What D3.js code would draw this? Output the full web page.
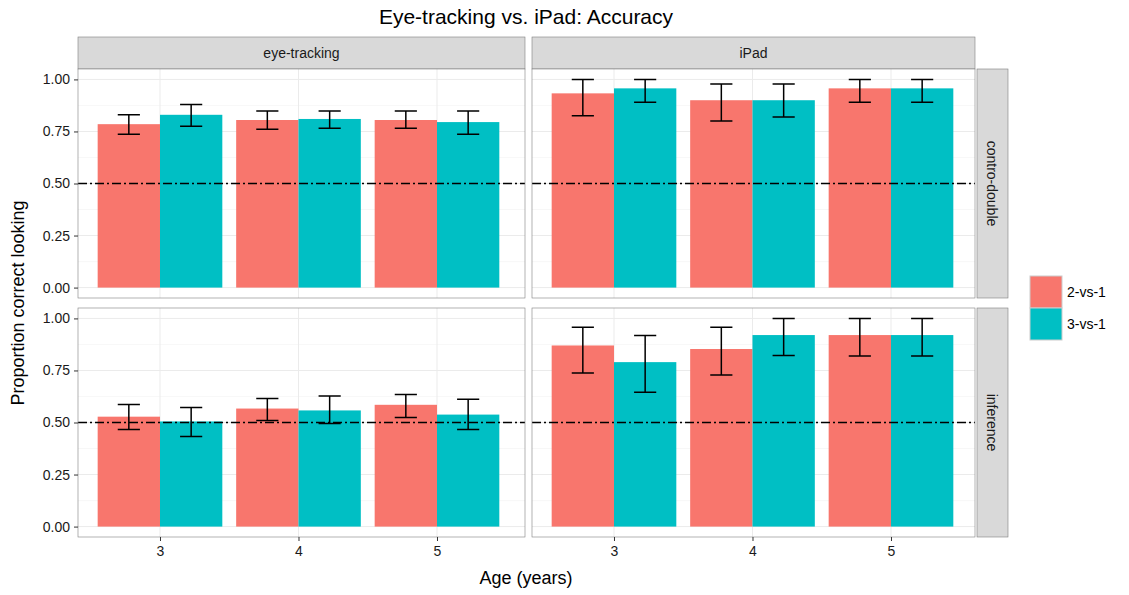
<!DOCTYPE html><html><head><script src="https://cdn.jsdelivr.net/npm/d3@7"></script>
<style>body{margin:0;background:#fff}text{font-family:"Liberation Sans",Arial,sans-serif}</style></head><body><svg id="c" width="1129" height="595"></svg>
<script>
const ages=[3,4,5];
const methods=["eye-tracking","iPad"];
const conditions=["contro-double","inference"];
const groups=["2-vs-1","3-vs-1"];
const yTicks=[0,0.25,0.5,0.75,1];
const means={"eye-tracking":{"contro-double":{"2-vs-1":[0.785,0.805,0.805],"3-vs-1":[0.83,0.81,0.795]},
 "inference":{"2-vs-1":[0.528,0.567,0.585],"3-vs-1":[0.505,0.558,0.538]}},
 "iPad":{"contro-double":{"2-vs-1":[0.933,0.9,0.957],"3-vs-1":[0.957,0.9,0.957]},
 "inference":{"2-vs-1":[0.87,0.853,0.92],"3-vs-1":[0.79,0.92,0.92]}}};
const lows={"eye-tracking":{"contro-double":{"2-vs-1":[0.737,0.76,0.765],"3-vs-1":[0.775,0.765,0.737]},
 "inference":{"2-vs-1":[0.466,0.51,0.524],"3-vs-1":[0.433,0.495,0.466]}},
 "iPad":{"contro-double":{"2-vs-1":[0.825,0.8,0.89],"3-vs-1":[0.89,0.82,0.89]},
 "inference":{"2-vs-1":[0.738,0.728,0.82],"3-vs-1":[0.645,0.822,0.82]}}};
const highs={"eye-tracking":{"contro-double":{"2-vs-1":[0.83,0.848,0.848],"3-vs-1":[0.88,0.848,0.848]},
 "inference":{"2-vs-1":[0.587,0.615,0.635],"3-vs-1":[0.572,0.627,0.612]}},
 "iPad":{"contro-double":{"2-vs-1":[1.0,0.978,1.0],"3-vs-1":[1.0,0.978,1.0]},
 "inference":{"2-vs-1":[0.957,0.957,1.0],"3-vs-1":[0.918,1.0,1.0]}}};
const colors={"2-vs-1":"#F8766D","3-vs-1":"#00BFC4"};
const svg=d3.select("#c");
const px=[[78,525],[532,975]], py=[[69,298],[308,537]];
svg.append("text").attr("x",526).attr("y",24).attr("text-anchor","middle").attr("font-size",21).text("Eye-tracking vs. iPad: Accuracy");
methods.forEach((m,mi)=>{
 const x=d3.scaleLinear().domain([2.408,2.408+(px[mi][1]-px[mi][0])/138.5]).range(px[mi]);
 svg.append("rect").attr("x",px[mi][0]).attr("y",37).attr("width",px[mi][1]-px[mi][0]).attr("height",32).attr("fill","#d9d9d9").attr("stroke","#7f7f7f").attr("stroke-width",0.6);
 svg.append("text").attr("x",(px[mi][0]+px[mi][1])/2).attr("y",58).attr("text-anchor","middle").attr("font-size",14).attr("fill","#1a1a1a").text(m);
 conditions.forEach((c,ci)=>{
  const y=d3.scaleLinear().domain([-0.05,1.05]).range([py[ci][1],py[ci][0]]);
  const g=svg.append("g");
  g.append("rect").attr("x",px[mi][0]).attr("y",py[ci][0]).attr("width",px[mi][1]-px[mi][0]).attr("height",py[ci][1]-py[ci][0]).attr("fill","#fff");
  [0.125,0.375,0.625,0.875].forEach(t=>g.append("line").attr("x1",px[mi][0]).attr("x2",px[mi][1]).attr("y1",y(t)).attr("y2",y(t)).attr("stroke","#f2f2f2").attr("stroke-width",0.6));
  yTicks.forEach(t=>g.append("line").attr("x1",px[mi][0]).attr("x2",px[mi][1]).attr("y1",y(t)).attr("y2",y(t)).attr("stroke","#ebebeb").attr("stroke-width",1));
  ages.forEach(a=>g.append("line").attr("x1",x(a)).attr("x2",x(a)).attr("y1",py[ci][0]).attr("y2",py[ci][1]).attr("stroke","#ebebeb"));
  groups.forEach((gr,gi)=>{
   ages.forEach((a,ai)=>{
    const x0=x(a-0.45+gi*0.45), x1=x(a+gi*0.45);
    g.append("rect").attr("x",x0).attr("width",x1-x0).attr("y",y(means[m][c][gr][ai])).attr("height",y(0)-y(means[m][c][gr][ai])).attr("fill",colors[gr]);
   });
  });
  g.append("line").attr("x1",px[mi][0]).attr("x2",px[mi][1]).attr("y1",y(0.5)).attr("y2",y(0.5)).attr("stroke","#000").attr("stroke-width",1.5).attr("stroke-dasharray","9,3,2,3");
  groups.forEach((gr,gi)=>{
   ages.forEach((a,ai)=>{
    const xc=x(a-0.225+gi*0.45), hw=x(0.08)-x(0);
    const lo=y(lows[m][c][gr][ai]), hi=y(highs[m][c][gr][ai]);
    g.append("path").attr("d",`M${xc-hw},${hi}H${xc+hw}M${xc},${hi}V${lo}M${xc-hw},${lo}H${xc+hw}`).attr("stroke","#000").attr("stroke-width",1.5).attr("fill","none");
   });
  });
  g.append("rect").attr("x",px[mi][0]).attr("y",py[ci][0]).attr("width",px[mi][1]-px[mi][0]).attr("height",py[ci][1]-py[ci][0]).attr("fill","none").attr("stroke","#7f7f7f").attr("stroke-width",0.6);
  if(mi==0){
   const ax=svg.append("g").attr("transform",`translate(${px[0][0]},0)`).call(d3.axisLeft(y).tickValues(yTicks).tickFormat(d3.format(".2f")).tickSize(4).tickPadding(4));
   ax.select(".domain").remove();ax.selectAll("line").attr("stroke","#333");
   ax.selectAll("text").attr("font-size",14).attr("fill","#1a1a1a");
  }
  if(mi==1){
   svg.append("rect").attr("x",977).attr("y",py[ci][0]).attr("width",31).attr("height",py[ci][1]-py[ci][0]).attr("fill","#d9d9d9").attr("stroke","#7f7f7f").attr("stroke-width",0.6);
   const cy=(py[ci][0]+py[ci][1])/2;
   svg.append("text").attr("transform",`translate(987,${cy}) rotate(90)`).attr("text-anchor","middle").attr("font-size",14).attr("fill","#1a1a1a").text(c);
  }
 });
 const ax=svg.append("g").attr("transform",`translate(0,${py[1][1]})`).call(d3.axisBottom(x).tickValues(ages).tickFormat(d3.format("d")).tickSize(4).tickPadding(5));
 ax.select(".domain").remove();ax.selectAll("line").attr("stroke","#333");
 ax.selectAll("text").attr("font-size",14).attr("fill","#1a1a1a");
});
svg.append("text").attr("x",526).attr("y",584).attr("text-anchor","middle").attr("font-size",18).text("Age (years)");
svg.append("text").attr("transform","translate(24,303) rotate(-90)").attr("text-anchor","middle").attr("font-size",18).text("Proportion correct looking");
groups.forEach((gr,i)=>{
 const yy=276+i*32;
 svg.append("rect").attr("x",1030).attr("y",yy).attr("width",32).attr("height",32).attr("fill",colors[gr]).attr("stroke","#ccc").attr("stroke-width",1);
 svg.append("text").attr("x",1067).attr("y",yy+21).attr("font-size",14).text(gr);
});
</script></body></html>
